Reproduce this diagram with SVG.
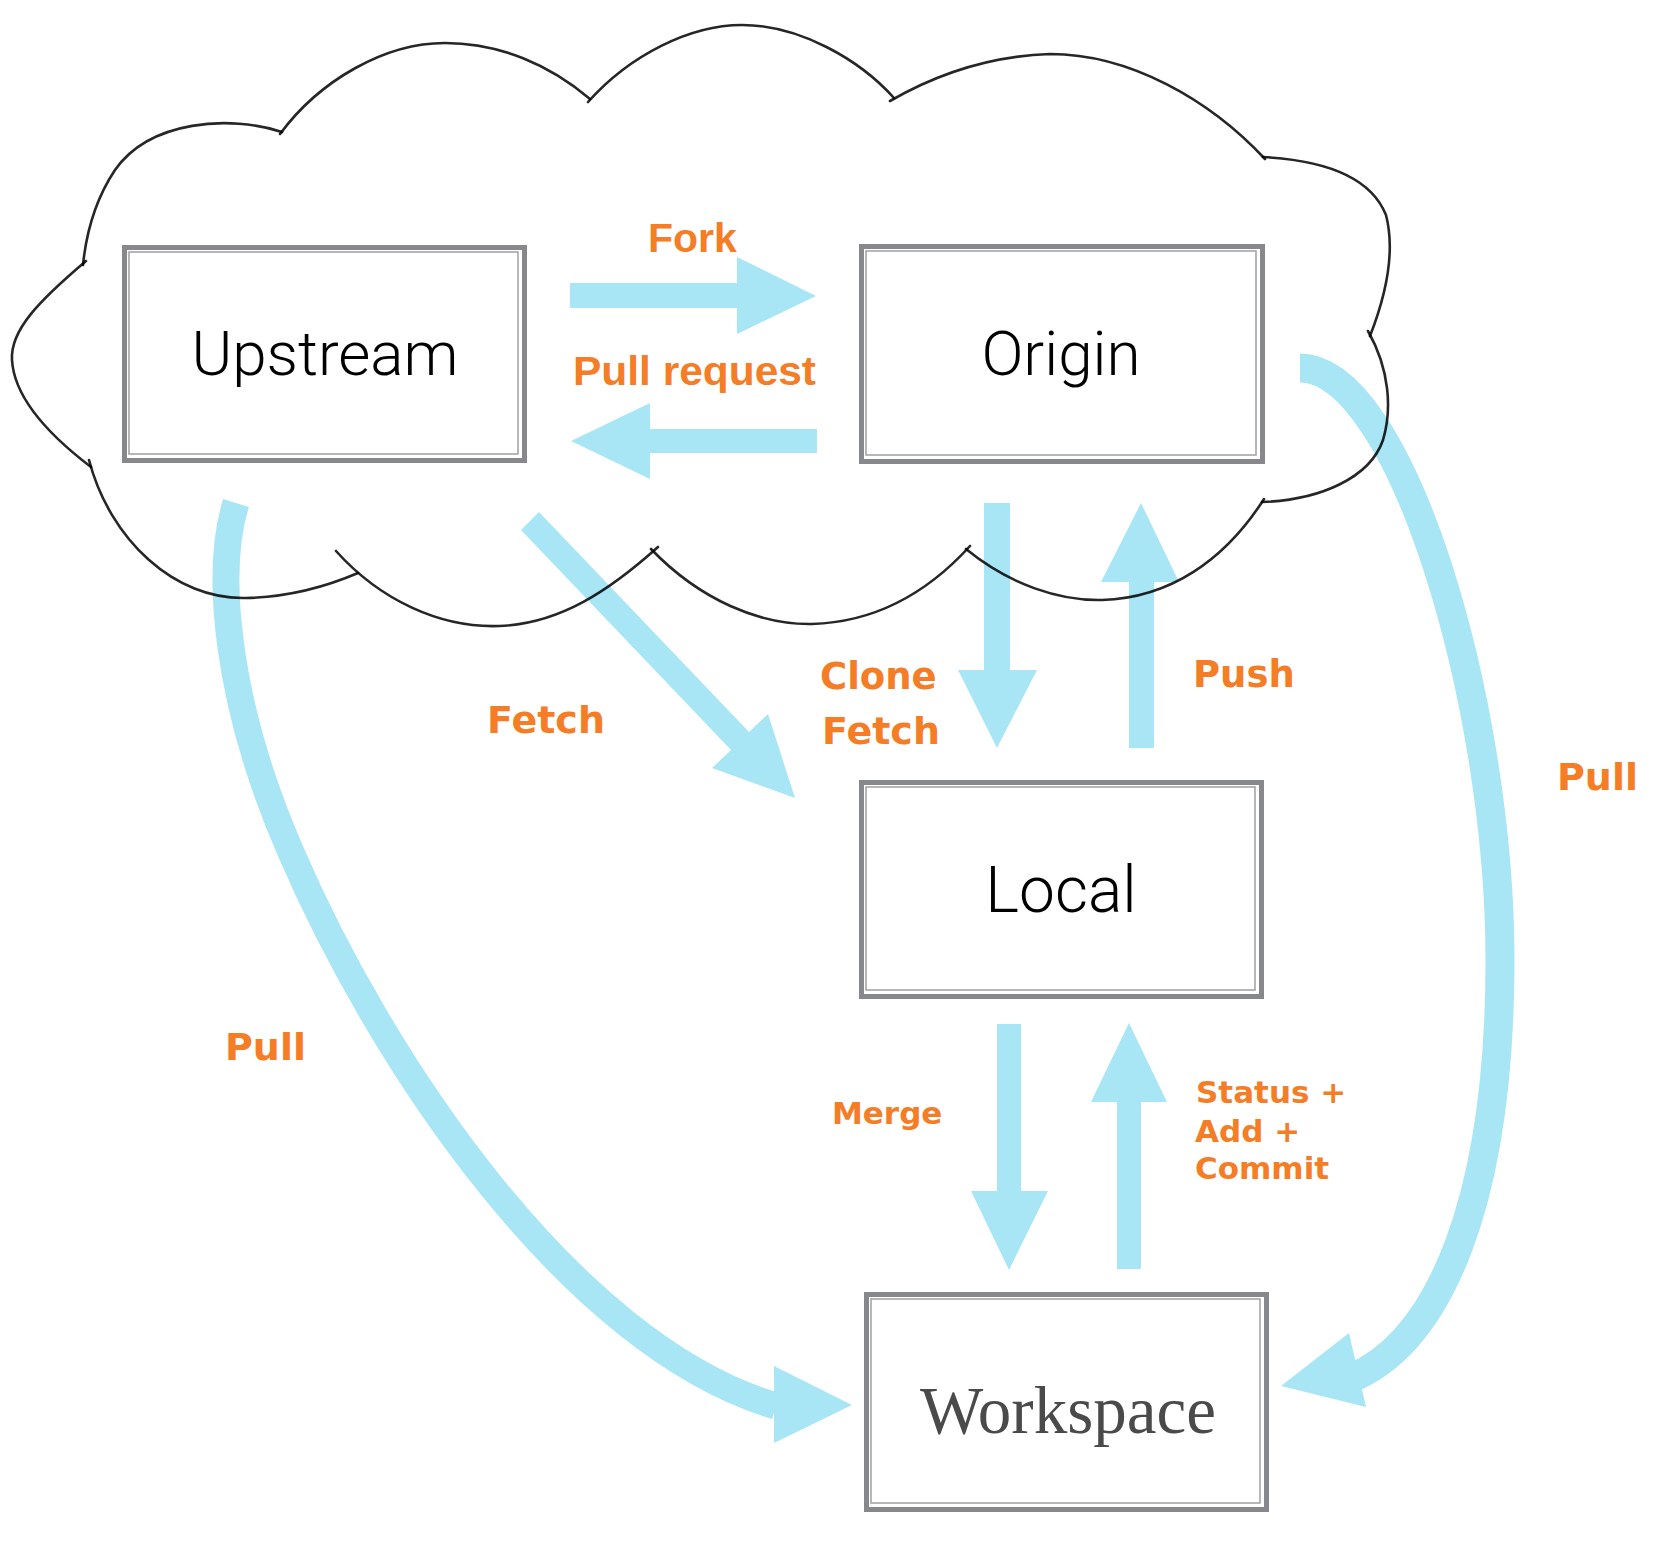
<svg xmlns="http://www.w3.org/2000/svg" width="1680" height="1557" viewBox="0 0 1680 1557">
<style>
.cloud{fill:none;stroke:#000;stroke-width:2.6;stroke-opacity:0.85;stroke-linecap:round}
.frame-o{fill:#fff;stroke:#86888c;stroke-width:5}
.frame-i{fill:none;stroke:#a3a5a8;stroke-width:1.6}
.nlabel{font-family:Roboto,"Open Sans","Liberation Sans",sans-serif;font-weight:300;font-size:62px;fill:#000;text-anchor:middle}
.wlabel{font-family:"Liberation Serif","DejaVu Serif",serif;font-size:67px;fill:#4a4a4a;text-anchor:middle}
.arrow{fill:#a8e6f5}
.curve{fill:none;stroke:#a8e6f5;stroke-linecap:butt}
.lbl{font-family:"DejaVu Sans",Verdana,sans-serif;font-weight:bold;fill:#f47d25}
.lbh{font-family:"Liberation Sans",Arial,sans-serif;font-weight:bold;fill:#f47d25;font-size:41px}
</style>
<rect width="1680" height="1557" fill="#fff"/>

<g id="connectors">
  <polygon class="arrow" points="570,283 737,283 737,257 816,296 737,334 737,308 570,308"/>
  <polygon class="arrow" points="817,429 650,429 650,403 571,441 650,479 650,453 817,453"/>
  <polygon class="arrow" points="539,512 749,732 768,714 795,798 712,768 731,750 521,530"/>
  <polygon class="arrow" points="984,503 1010,503 1010,670 1037,670 997,748 958,670 984,670"/>
  <polygon class="arrow" points="1129,748 1154,748 1154,582 1179,582 1141,503 1101,582 1129,582"/>
  <polygon class="arrow" points="997,1024 1021,1024 1021,1191 1048,1191 1009,1270 971,1191 997,1191"/>
  <polygon class="arrow" points="1117,1269 1141,1269 1141,1102 1167,1102 1129,1023 1091,1102 1117,1102"/>
  <path class="curve" stroke-width="29" d="M1300,368 C1400,368 1500,700 1500,960 C1500,1200 1440,1340 1352,1378"/>
  <polygon class="arrow" points="1349,1333 1366,1407 1281,1386"/>
  <path class="curve" stroke-width="27" d="M236,503 C215,570 225,700 290,850 C380,1060 570,1345 776,1406"/>
  <polygon class="arrow" points="774,1366 852,1405 774,1443"/>
</g>

<g id="cloud">
  <path class="cloud" d="M282,132 C230,115 150,120 115,170 C95,200 86,235 83,265"/>
  <path class="cloud" d="M86,261 C40,300 10,330 12,360 C14,395 45,432 91,467"/>
  <path class="cloud" d="M89,460 C110,540 175,600 246,598 C290,597 330,585 358,573"/>
  <path class="cloud" d="M336,551 C380,600 440,628 499,626 C560,624 610,590 658,547"/>
  <path class="cloud" d="M651,549 C700,600 760,625 812,624 C880,622 930,590 970,546"/>
  <path class="cloud" d="M966,549 C1010,585 1060,601 1102,600 C1170,598 1225,560 1264,499"/>
  <path class="cloud" d="M1262,502 C1320,500 1370,478 1383,440 C1392,410 1390,370 1368,331"/>
  <path class="cloud" d="M1370,336 C1388,290 1395,250 1386,215 C1370,175 1320,160 1263,157"/>
  <path class="cloud" d="M1265,159 C1210,100 1130,54 1050,54 C990,56 935,75 890,101"/>
  <path class="cloud" d="M894,98 C860,60 800,25 742,25 C690,25 630,55 588,102"/>
  <path class="cloud" d="M590,99 C550,65 500,43 445,43 C385,43 320,80 280,134"/>
</g>

<g id="upstream">
  <rect class="frame-o" x="124.5" y="247.5" width="400" height="213"/>
  <rect class="frame-i" x="129" y="252" width="389" height="202"/>
  <text class="nlabel" x="325" y="375">Upstream</text>
</g>
<g id="origin">
  <rect class="frame-o" x="861.5" y="246.5" width="401" height="215"/>
  <rect class="frame-i" x="866" y="251" width="390" height="204"/>
  <text class="nlabel" x="1061" y="375">Origin</text>
</g>
<g id="local">
  <rect class="frame-o" x="861.5" y="782.5" width="400" height="214"/>
  <rect class="frame-i" x="866" y="787" width="389" height="203"/>
  <text class="nlabel" x="1061" y="912" style="font-size:64px">Local</text>
</g>
<g id="workspace">
  <rect class="frame-o" x="866.5" y="1294.5" width="400" height="215"/>
  <rect class="frame-i" x="871" y="1299" width="389" height="204"/>
  <text class="wlabel" x="1068" y="1433">Workspace</text>
</g>

<g id="labels">
  <text class="lbh" x="648" y="252">Fork</text>
  <text class="lbh" x="573" y="385" textLength="243" lengthAdjust="spacingAndGlyphs">Pull request</text>
  <text class="lbl" x="487" y="733" font-size="38">Fetch</text>
  <text class="lbl" x="820" y="689" font-size="37">Clone</text>
  <text class="lbl" x="822" y="744" font-size="38">Fetch</text>
  <text class="lbl" x="1193" y="687" font-size="37">Push</text>
  <text class="lbl" x="1557" y="790" font-size="38">Pull</text>
  <text class="lbl" x="225" y="1060" font-size="38">Pull</text>
  <text class="lbl" x="832" y="1124" font-size="31">Merge</text>
  <text class="lbl" x="1196" y="1103" font-size="31">Status +</text>
  <text class="lbl" x="1195" y="1142" font-size="31">Add +</text>
  <text class="lbl" x="1195" y="1179" font-size="31">Commit</text>
</g>
</svg>
